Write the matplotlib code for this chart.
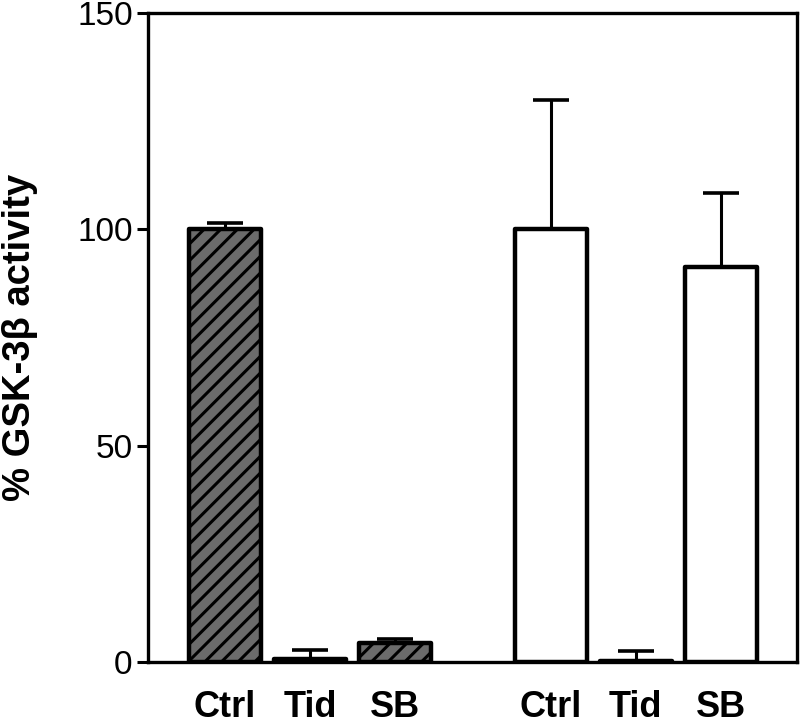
import matplotlib.pyplot as plt
import numpy as np

# data
labels = ["Ctrl", "Tid", "SB", "Ctrl", "Tid", "SB"]
positions = [1.0, 2.0, 3.0, 4.835, 5.835, 6.835]
values = [100.0, 0.8, 4.5, 100.0, 0.3, 91.3]
errors = [1.5, 2.0, 0.8, 30.0, 2.2, 17.0]
hatched = [True, True, True, False, False, False]
y_ticks = [0, 50, 100, 150]

plt.rcParams['font.family'] = ['Liberation Sans', 'DejaVu Sans']
plt.rcParams['hatch.linewidth'] = 2.2

fig = plt.figure(figsize=(8.0, 7.27), dpi=100)
ax = fig.add_axes([0.185, 0.0894, 0.811, 0.8926])

for x, v, e, h in zip(positions, values, errors, hatched):
    ax.bar(x, v, width=0.85, color='#6b6b6b' if h else 'white',
           hatch='//' if h else None, edgecolor='black', linewidth=3.2,
           joinstyle='round', zorder=2)
    ax.errorbar(x, v, yerr=[[0], [e]], fmt='none', ecolor='black',
                elinewidth=2.2, capsize=13, capthick=2.6, zorder=1)

ax.set_xlim(0.094, 7.73)
ax.set_ylim(0, 150)
ax.set_yticks(y_ticks)
ax.set_xticks(positions)
ax.set_xticklabels(labels, fontsize=26, fontweight='bold')
ax.tick_params(axis='x', length=0, pad=20)
ax.tick_params(axis='y', length=8, width=2.2, labelsize=24, pad=3)
for s in ax.spines.values():
    s.set_linewidth(2.4)
ax.set_ylabel("% GSK-3β activity", fontsize=27.5, fontweight='bold')
ax.yaxis.set_label_coords(-0.1695, 0.5)

fig.savefig("out.png", dpi=100)
